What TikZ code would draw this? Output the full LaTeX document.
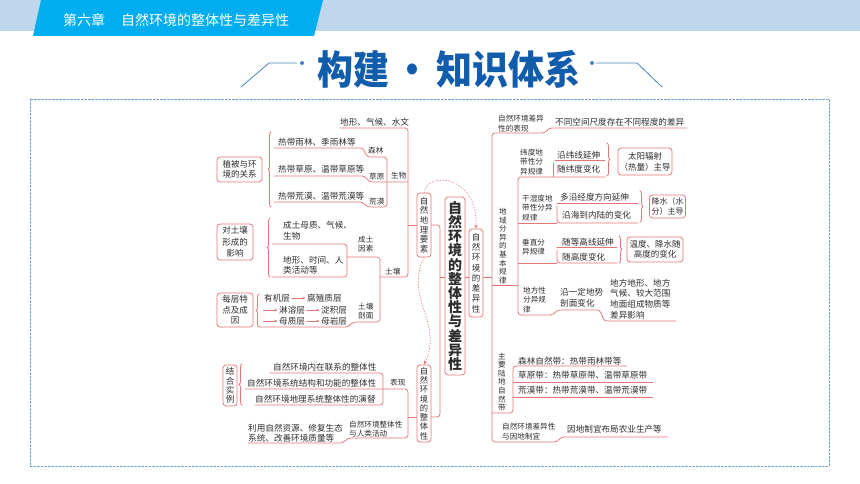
\documentclass[tikz,border=0pt]{standalone}
\usepackage{fontspec}
\setmainfont{Noto Sans CJK SC}
\usetikzlibrary{arrows.meta,decorations.pathreplacing}

\tikzset{
  mapline/.style={draw=mapred, line width=0.75pt, rounded corners=3pt},
  maptext/.style={font=\fontsize{8.6}{10.5}\selectfont, text=maptxt, inner sep=0pt, anchor=west, align=left},
  mapsmall/.style={font=\fontsize{7.6}{9.4}\selectfont, text=maptxt, inner sep=0pt, anchor=west, align=left},
  mapvert/.style={font=\fontsize{7.6}{8.6}\selectfont, text=maptxt, inner sep=0pt, align=center},
  mapbox/.style={draw=mapred, line width=0.75pt, rounded corners=3pt, fill=white, text=maptxt, align=center, inner sep=1pt, font=\fontsize{8.5}{10.5}\selectfont},
  mapbrace/.style={draw=mapred, line width=0.75pt, decorate, decoration={brace, amplitude=3pt}},
  layerarr/.style={draw=mapred, line width=0.75pt, shorten <=1.5pt, shorten >=1.5pt, -{Stealth[length=3pt, width=2.6pt]}},
  linkarr/.style={draw=mapred, line width=0.75pt, dotted, -{Stealth[length=4pt, width=3.2pt]}},
  ornament/.style={draw=ornblue, line width=0.8pt},
}

\begin{document}
\begin{tikzpicture}[x=1pt, y=-1pt, >=latex, line join=round, line cap=round]

		% Colours
		\definecolor{mapred}{RGB}{228,118,118}
		\definecolor{maptxt}{RGB}{45,45,45}
		\definecolor{hdrband}{RGB}{190,215,237}
		\definecolor{hdrtab}{RGB}{0,174,239}
		\definecolor{titleblue}{RGB}{18,92,172}
		\definecolor{ornblue}{RGB}{70,130,195}
		\definecolor{frameblue}{RGB}{100,160,215}

		\useasboundingbox (0,0) rectangle (860,484);

		% 1. Header band and chapter tab
		\fill[hdrband] (0,0) rectangle (860,31);
		\fill[hdrtab] (41,0) -- (323,0) -- (314,36) -- (33,36) -- cycle;
		\node[anchor=west, text=white, inner sep=0pt, font=\fontsize{14}{14}\selectfont] (chapter) at (63,20) {第六章\hspace{16pt}自然环境的整体性与差异性};

		% 2. Title and its ornaments
		\node[text=titleblue, inner sep=0pt, yscale=1.1, font=\fontsize{36}{36}\selectfont\bfseries] (title) at (449,69) {构建\hspace{6pt}·\hspace{6pt}知识体系};
		\draw[ornament] (241,87) -- (269,63) -- (297,63);
		\fill[ornblue] (302,63) circle (2pt);
		\draw[ornament] (596,63) -- (637,63) -- (662,87);
		\fill[ornblue] (592,63) circle (2pt);

		% 3. Dashed frame
		\draw[frameblue, line width=0.7pt, dash pattern=on 2pt off 1.6pt] (30,99) rectangle (829,466);

		% 4. Centre column
		\node[mapbox, minimum width=20pt, minimum height=178pt, inner sep=2pt, font=\fontsize{14}{14.2}\selectfont\bfseries] (center) at (455,286) {自\\然\\环\\境\\的\\整\\体\\性\\与\\差\\异\\性};
		\node[mapbox, minimum width=14pt, minimum height=64pt, font=\fontsize{8.5}{9.6}\selectfont] (yaosu) at (424,225) {自\\然\\地\\理\\要\\素};
		\node[mapbox, minimum width=14pt, minimum height=77pt, font=\fontsize{8.3}{9.3}\selectfont] (zhengti) at (424,403.5) {自\\然\\环\\境\\的\\整\\体\\性};
		\node[mapbox, minimum width=14pt, minimum height=88pt, font=\fontsize{8.5}{10.3}\selectfont] (chayi) at (476,273) {自\\然\\环\\境\\的\\差\\异\\性};

		\draw[mapline] (yaosu.east) -- (440,225) -- (440,417) -- (zhengti.east |- 0,417);
		\draw[mapline] (440,277) -- (center.west |- 0,277);
		\draw[mapline] (center.east |- 0,277) -- (chayi.west |- 0,277);
		\draw[linkarr] (yaosu.north) .. controls (428,170) and (478,176) .. (chayi.north);
		\draw[linkarr] (yaosu.south) .. controls (404,300) and (444,322) .. (zhengti.north);

		% 5. Elements: vegetation
		\node[maptext] (dqs) at (340,122) {地形、气候、水文};
		\node[mapbox, minimum width=45pt, minimum height=25pt, font=\fontsize{8.5}{10}\selectfont] (zhibei) at (239.5,169.5) {植被与环\\境的关系};
		\node[maptext] (rainf) at (278,142) {热带雨林、季雨林等};
		\node[maptext] (grassl) at (278,169) {热带草原、温带草原等};
		\node[maptext] (desert) at (278,196) {热带荒漠、温带荒漠等};
		\node[mapsmall] (senlin) at (368,151) {森林};
		\node[mapsmall] (caoyuan) at (369,176.5) {草原};
		\node[mapsmall] (huangmo) at (369,201.5) {荒漠};
		\node[mapsmall] (shengwu) at (391,176) {生物};

		\draw[mapbrace] (271,207) -- (271,132);
		\draw[mapline] (274,148) -- (363,148) -- (367,157) -- (387,157) -- (387,207) -- (367,207) -- (363,202) -- (274,202);
		\draw[mapline] (274,176) -- (365,176) -- (369,182) -- (408,182);
		\draw[mapline] (340,128) -- (408,128) -- (408,277) -- (380,277);
		\draw[mapline] (408,225) -- (yaosu.west);

		% 6. Elements: soil
		\node[mapbox, minimum width=36pt, minimum height=36pt, font=\fontsize{8.5}{11.5}\selectfont] (turang) at (235,242) {对土壤\\形成的\\影响};
		\node[maptext] (mother) at (283,230.5) {成土母质、气候、\\生物};
		\node[maptext] (terrain) at (283,265) {地形、时间、人\\类活动等};
		\node[mapsmall, align=center] (factor) at (358,244) {成土\\因素};
		\node[mapsmall] (soil) at (385,272) {土壤};

		\draw[mapbrace] (270,277) -- (270,218);
		\draw[mapline] (272,244) -- (347,244) -- (347,277) -- (272,277);
		\draw[mapline] (347,257) -- (380,257) -- (380,322) -- (353,322) -- (348,327) -- (259,327);

		\node[mapbox, minimum width=36pt, minimum height=34pt, font=\fontsize{8.5}{10.5}\selectfont] (meiceng) at (235,310) {每层特\\点及成\\因};
		\node[maptext] (organic) at (264,298) {有机层};
		\node[maptext] (humus) at (307,298) {腐殖质层};
		\node[maptext] (leach) at (279,310) {淋溶层};
		\node[maptext] (illuv) at (321,310) {淀积层};
		\node[maptext] (parent) at (279,321) {母质层};
		\node[maptext] (bedrock) at (321,321) {母岩层};
		\node[mapsmall, align=center] (profile) at (358,311) {土壤\\剖面};
		\coordinate (row2) at (262,310);
		\coordinate (row3) at (262,321);

		\draw[layerarr] (organic) -- (humus);
		\draw[layerarr] (row2) -- (leach);
		\draw[layerarr] (leach) -- (illuv);
		\draw[layerarr] (row3) -- (parent);
		\draw[layerarr] (parent) -- (bedrock);
		\draw[mapbrace] (259,327) -- (259,294);

		% 7. Wholeness: examples and human activity
		\node[mapbox, minimum width=14pt, minimum height=41pt, font=\fontsize{8.5}{9.3}\selectfont] (jiehe) at (230,385.5) {结\\合\\实\\例};
		\node[maptext] (inner) at (273,367.5) {自然环境内在联系的整体性};
		\node[maptext] (struct) at (247,383) {自然环境系统结构和功能的整体性};
		\node[maptext] (evol) at (255,399) {自然环境地理系统整体性的演替};
		\node[mapsmall] (biaoxian) at (390,383) {表现};
		\node[mapsmall] (human) at (349,429) {自然环境整体性\\与人类活动};
		\node[maptext] (use) at (248,433) {利用自然资源、修复生态\\系统、改善环境质量等};

		\draw[mapbrace] (242,405) -- (242,364);
		\draw[mapline] (270,373) -- (383,373) -- (383,405) -- (255,405);
		\draw[mapline] (245,389) -- (408,389) -- (408,438) -- (348,438) -- (343,443) -- (248,443);
		\draw[mapline] (408,417) -- (zhengti.west |- 0,417);

		% 8. Differences: trunk
		\node[mapsmall] (biaoxian2) at (498,123.5) {自然环境差异\\性的表现};
		\node[maptext] (scale) at (555,122) {不同空间尺度存在不同程度的差异};
		\draw[mapline] (687,128) -- (549,128) -- (545,133) -- (492,133) -- (492,442) -- (557,442) -- (561,437) -- (668,437);
		\draw[mapline] (chayi.east |- 0,277) -- (492,277);

		% 9. Basic laws of regional differentiation
		\node[mapvert] (law) at (503,246) {地\\域\\分\\异\\的\\基\\本\\规\\律};
		\draw[mapline] (492,285) -- (518,285);
		\draw[mapline] (605,177) -- (518,177) -- (518,315) -- (553,315) -- (557,310) -- (600,310) -- (604,321) -- (676,321);

		\node[mapsmall] (weidu) at (520,162) {纬度地\\带性分\\异规律};
		\node[maptext] (weixian) at (557,155) {沿纬线延伸};
		\node[maptext] (weidubh) at (557,169) {随纬度变化};
		\node[mapbox, minimum width=54pt, minimum height=27pt, font=\fontsize{8.5}{11}\selectfont] (taiyang) at (645,161.5) {太阳辐射\\（热量）主导};
		\draw[mapline] (555,160) -- (605,160);
		\draw[mapline] (553,163) -- (553,177);
		\draw[mapbrace] (607,143) -- (607,176);

		\node[mapsmall] (ganshi) at (522,208) {干湿度地\\带性分异\\规律};
		\node[maptext] (jingdu) at (560,197) {多沿经度方向延伸};
		\node[maptext] (haiyang) at (562,215) {沿海到内陆的变化};
		\node[mapbox, minimum width=36pt, minimum height=23pt, font=\fontsize{8}{10.5}\selectfont] (jiangshui) at (667.5,206.5) {降水（水\\分）主导};
		\draw[mapline] (557,203) -- (638,203);
		\draw[mapline] (557,206) -- (557,223) -- (638,223);
		\draw[mapline] (518,223) -- (557,223);
		\draw[mapbrace] (640,191) -- (640,222);

		\node[mapsmall] (chuizhi) at (522,247) {垂直分\\异规律};
		\node[maptext] (denggao) at (562,242) {随等高线延伸};
		\node[maptext] (gaodu) at (562,257) {随高度变化};
		\node[mapbox, minimum width=56pt, minimum height=25pt, font=\fontsize{8.5}{10.5}\selectfont] (wendu) at (655,249.5) {温度、降水随\\高度的变化};
		\draw[mapline] (557,247) -- (617,247);
		\draw[mapline] (557,250) -- (557,263) -- (617,263);
		\draw[mapline] (518,263) -- (557,263);
		\draw[mapbrace] (619,236) -- (619,263);

		\node[mapsmall] (difang) at (523,300) {地方性\\分异规\\律};
		\node[maptext] (dishi) at (560,297.5) {沿一定地势\\剖面变化};
		\node[maptext, font=\fontsize{8.6}{10.6}\selectfont] (local) at (610,299) {地方地形、地方\\气候、较大范围\\地面组成物质等\\差异影响};

		% 10. Main natural zones and adapting to local conditions
		\node[mapvert] (zone) at (502,382) {主\\要\\陆\\地\\自\\然\\带};
		\node[maptext] (forest) at (518,361) {森林自然带：热带雨林带等};
		\node[maptext] (grassz) at (518,375) {草原带：热带草原带、温带草原带};
		\node[maptext] (desz) at (518,390) {荒漠带：热带荒漠带、温带荒漠带};
		\draw[mapline] (492,413) -- (513,413) -- (513,366) -- (627,366);
		\draw[mapline] (513,382) -- (653,382);
		\draw[mapline] (513,397) -- (653,397);

		\node[mapsmall] (yindi) at (502,431.5) {自然环境差异性\\与因地制宜};
		\node[maptext] (agri) at (567,429) {因地制宜布局农业生产等};

	\end{tikzpicture}
\end{document}
